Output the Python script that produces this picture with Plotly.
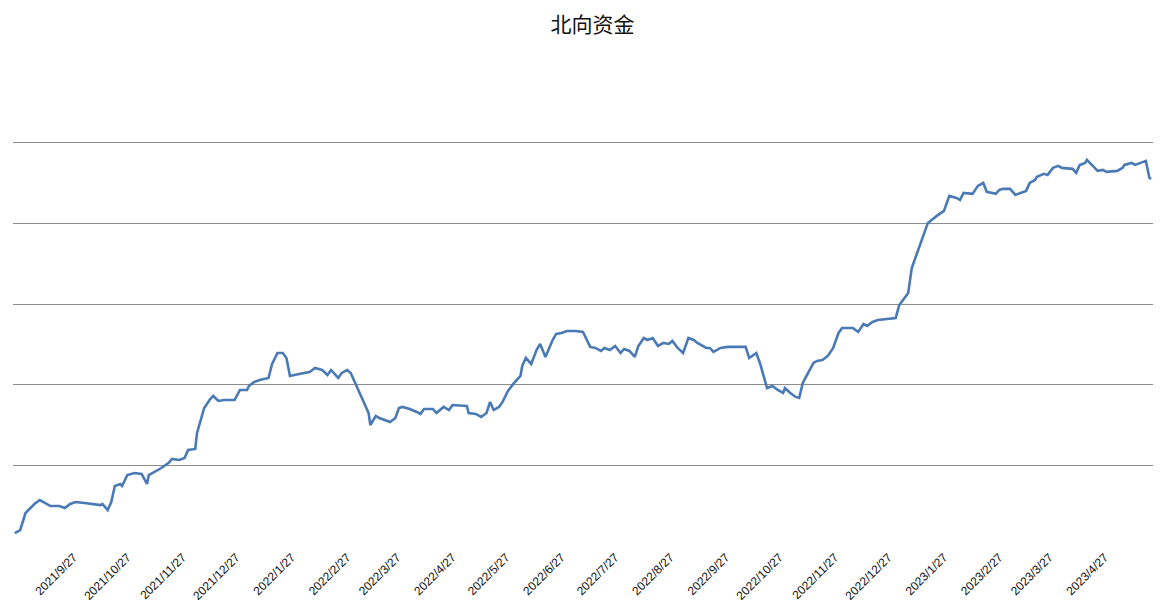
import plotly.graph_objects as go
import pandas as pd

dates = ["2021-08-25","2021-08-28","2021-08-31","2021-09-03","2021-09-05","2021-09-08","2021-09-11","2021-09-14","2021-09-19","2021-09-22","2021-09-25","2021-09-28","2021-10-03","2021-10-12","2021-10-13","2021-10-16","2021-10-18","2021-10-20","2021-10-23","2021-10-24","2021-10-27","2021-10-31","2021-11-04","2021-11-07","2021-11-08","2021-11-13","2021-11-15","2021-11-19","2021-11-21","2021-11-25","2021-11-28","2021-11-30","2021-12-04","2021-12-05","2021-12-08","2021-12-09","2021-12-12","2021-12-14","2021-12-17","2021-12-20","2021-12-26","2021-12-29","2022-01-02","2022-01-03","2022-01-06","2022-01-09","2022-01-14","2022-01-16","2022-01-19","2022-01-22","2022-01-24","2022-01-26","2022-01-31","2022-02-06","2022-02-09","2022-02-13","2022-02-16","2022-02-18","2022-02-20","2022-02-22","2022-02-24","2022-02-27","2022-03-01","2022-03-04","2022-03-06","2022-03-09","2022-03-11","2022-03-12","2022-03-15","2022-03-17","2022-03-21","2022-03-23","2022-03-26","2022-03-28","2022-03-30","2022-04-03","2022-04-07","2022-04-09","2022-04-11","2022-04-16","2022-04-18","2022-04-22","2022-04-25","2022-04-27","2022-05-05","2022-05-06","2022-05-10","2022-05-13","2022-05-16","2022-05-18","2022-05-20","2022-05-23","2022-05-25","2022-05-28","2022-05-31","2022-06-04","2022-06-05","2022-06-07","2022-06-10","2022-06-13","2022-06-15","2022-06-18","2022-06-22","2022-06-24","2022-06-27","2022-06-30","2022-07-02","2022-07-05","2022-07-09","2022-07-11","2022-07-13","2022-07-16","2022-07-19","2022-07-21","2022-07-24","2022-07-27","2022-07-30","2022-08-01","2022-08-04","2022-08-07","2022-08-09","2022-08-12","2022-08-14","2022-08-17","2022-08-20","2022-08-23","2022-08-26","2022-08-28","2022-08-31","2022-09-03","2022-09-06","2022-09-09","2022-09-11","2022-09-16","2022-09-18","2022-09-20","2022-09-24","2022-09-28","2022-10-04","2022-10-08","2022-10-10","2022-10-14","2022-10-16","2022-10-18","2022-10-20","2022-10-23","2022-10-26","2022-10-29","2022-10-30","2022-11-02","2022-11-05","2022-11-07","2022-11-09","2022-11-12","2022-11-15","2022-11-17","2022-11-20","2022-11-23","2022-11-26","2022-11-29","2022-12-01","2022-12-04","2022-12-07","2022-12-10","2022-12-13","2022-12-15","2022-12-18","2022-12-21","2022-12-27","2022-12-31","2023-01-02","2023-01-05","2023-01-07","2023-01-09","2023-01-12","2023-01-15","2023-01-18","2023-01-23","2023-01-27","2023-01-30","2023-02-03","2023-02-05","2023-02-07","2023-02-12","2023-02-15","2023-02-18","2023-02-20","2023-02-25","2023-02-27","2023-03-01","2023-03-05","2023-03-08","2023-03-11","2023-03-14","2023-03-16","2023-03-19","2023-03-20","2023-03-24","2023-03-26","2023-03-29","2023-04-01","2023-04-03","2023-04-09","2023-04-11","2023-04-13","2023-04-16","2023-04-17","2023-04-20","2023-04-23","2023-04-26","2023-04-28","2023-05-04","2023-05-07","2023-05-08","2023-05-12","2023-05-14","2023-05-17","2023-05-20","2023-05-22","2023-05-23"]
values = [161,198,409,471,521,570,533,496,496,471,521,546,533,508,521,446,546,744,769,744,880,905,893,769,880,942,967,1029,1079,1066,1091,1190,1203,1401,1649,1711,1810,1860,1798,1810,1810,1934,1934,1984,2034,2058,2083,2257,2393,2393,2331,2108,2133,2158,2207,2182,2120,2182,2133,2083,2145,2182,2145,1984,1897,1748,1649,1500,1612,1587,1550,1538,1587,1711,1724,1699,1662,1637,1699,1699,1649,1724,1686,1748,1736,1649,1637,1600,1649,1786,1686,1724,1786,1922,2009,2108,2232,2331,2257,2430,2505,2344,2554,2629,2641,2666,2666,2666,2654,2554,2468,2455,2418,2455,2430,2480,2393,2443,2418,2344,2480,2579,2554,2579,2480,2517,2505,2542,2455,2393,2579,2554,2517,2455,2455,2406,2455,2468,2468,2468,2331,2393,2269,2108,1959,1984,1934,1897,1959,1897,1848,1835,2021,2145,2269,2294,2306,2356,2455,2641,2703,2703,2703,2654,2753,2728,2778,2802,2815,2827,2988,3075,3137,3447,3633,3794,4005,4092,4154,4340,4315,4290,4377,4365,4464,4501,4390,4365,4414,4427,4427,4352,4377,4402,4501,4538,4576,4613,4600,4687,4712,4687,4675,4625,4724,4749,4786,4712,4650,4662,4638,4650,4687,4724,4749,4724,4749,4774,4563,4551]

tick_dates = pd.date_range("2021-08-27", "2023-04-27", freq="MS") + pd.Timedelta(days=26)
tick_labels = [f"{d.year}/{d.month}/{d.day}" for d in tick_dates]

fig = go.Figure(go.Scatter(x=dates, y=values, mode="lines",
                           line=dict(color="#4a7ab5", width=2.6)))
fig.update_layout(
    width=1169, height=608, paper_bgcolor="white", plot_bgcolor="white",
    margin=dict(l=5, r=24, t=53, b=69), showlegend=False,
    title=dict(text="北向资金", x=0.5, xanchor="center", y=0.985, yanchor="top",
               font=dict(family="Noto Sans CJK SC", size=21, color="#111")),
    font=dict(family="Liberation Sans, Arial", color="#111"),
)
fig.update_xaxes(range=["2021-08-24", "2023-05-24"], tickvals=list(tick_dates), ticktext=tick_labels,
                 tickangle=-45, tickfont=dict(size=12), showgrid=False, ticks="", showline=False,
                 zeroline=False, automargin=False)
fig.update_yaxes(range=[-12, 6012], dtick=1000, showticklabels=False, showgrid=True,
                 gridcolor="#8c8c8c", gridwidth=1, zeroline=False, showline=False, automargin=False)
fig.write_html("out.html")
